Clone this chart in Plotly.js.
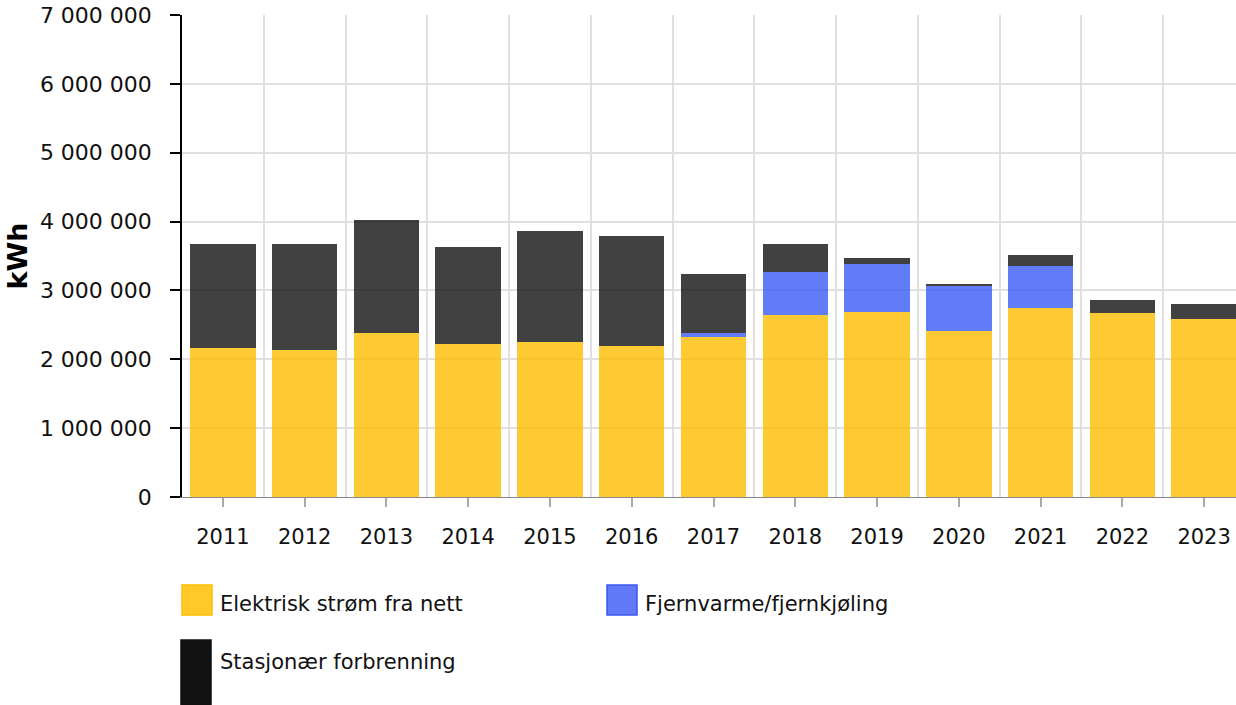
<!DOCTYPE html>
<html>
<head>
<meta charset="utf-8">
<script src="https://cdn.plot.ly/plotly-3.0.1.min.js"></script>
<style>
  html, body { margin: 0; padding: 0; overflow: hidden; background: #fff; }
  #chart { width: 1250px; height: 705px; }
</style>
</head>
<body>
<div id="chart"></div>
<script>
const years = [2011, 2012, 2013, 2014, 2015, 2016, 2017, 2018, 2019, 2020, 2021, 2022, 2023];
const electricity = [2163000, 2129000, 2376000, 2216000, 2245000, 2187000, 2318000, 2637000, 2681000, 2405000, 2739000, 2666000, 2579000];
const districtHeat = [0, 0, 0, 0, 0, 0, 58000, 629000, 696000, 658000, 619000, 0, 0];
const combustion = [1505000, 1539000, 1640000, 1408000, 1611000, 1597000, 856000, 402000, 90000, 24000, 150000, 189000, 218000];
const seriesNames = ["Elektrisk strøm fra nett", "Fjernvarme/fjernkjøling", "Stasjonær forbrenning"];
const yTickVals = [0, 1000000, 2000000, 3000000, 4000000, 5000000, 6000000, 7000000];

const FONT = "DejaVu Sans, Verdana, sans-serif";
const W = 1250, H = 705;
const M = { l: 182, r: 5, t: 15, b: 208 };
const PW = W - M.l - M.r, PH = H - M.t - M.b;
const px2x = function (px) { return (px - M.l) / PW; };
const px2y = function (py) { return (H - M.b - py) / PH; };

const barColors = ["rgba(252,189,0,0.8)", "rgba(59,90,245,0.8)", "rgba(17,17,17,0.8)"];
const seriesValues = [electricity, districtHeat, combustion];

const traces = seriesValues.map(function (vals, i) {
  return {
    type: "bar", x: years, y: vals, name: seriesNames[i], width: 0.8,
    marker: { color: barColors[i], line: { width: 0 } },
    hoverinfo: "y+name", showlegend: false
  };
});

// legend drawn as swatch + text (pixel boxes for the swatches, text anchor)
const legendItems = [
  { fill: "#FFC92A", stroke: "#FDC000", box: [182, 585, 212, 615], tx: 218, ty: 604 },
  { fill: "#6178F7", stroke: "#3D5AF1", box: [607, 585, 637, 615], tx: 643, ty: 604 },
  { fill: "#111111", stroke: "#111111", box: [181, 640, 211, 705], tx: 218, ty: 662 }
];

const shapes = legendItems.map(function (it) {
  return {
    type: "rect", xref: "paper", yref: "paper",
    x0: px2x(it.box[0]), x1: px2x(it.box[2]),
    y0: px2y(it.box[3]), y1: px2y(it.box[1]),
    fillcolor: it.fill, line: { color: it.stroke, width: 1.5 }, layer: "above"
  };
});

const annotations = legendItems.map(function (it, i) {
  return {
    xref: "paper", yref: "paper", x: px2x(it.tx), y: px2y(it.ty),
    xanchor: "left", yanchor: "middle", showarrow: false,
    text: seriesNames[i],
    font: { family: FONT, size: 21, color: "#111" }
  };
});

const layout = {
  width: W, height: H,
  margin: M,
  barmode: "stack",
  separators: ", ",
  paper_bgcolor: "#fff",
  plot_bgcolor: "#fff",
  font: { family: FONT, size: 21, color: "#111" },
  showlegend: false,
  xaxis: {
    type: "linear",
    range: [2010.5, 2023.5],
    tickvals: years,
    ticktext: years.map(String),
    showgrid: false,
    zeroline: false,
    showline: true, linecolor: "#888", linewidth: 1,
    ticks: "outside", ticklen: 9, tickcolor: "#aaa", tickwidth: 1.5,
    ticklabelstandoff: 12,
    tickfont: { family: FONT, size: 21, color: "#111" },
    minor: { tick0: 2010.5, dtick: 1, showgrid: true, gridcolor: "#e0e0e0", gridwidth: 1.5, ticks: "" },
    fixedrange: true
  },
  yaxis: {
    range: [0, 7000000],
    tickvals: yTickVals,
    tickformat: ",d",
    showgrid: true, gridcolor: "#e0e0e0", gridwidth: 1.5,
    zeroline: false,
    showline: true, linecolor: "#000", linewidth: 1.5,
    ticks: "outside", ticklen: 10, tickcolor: "#000", tickwidth: 1.5,
    ticklabelstandoff: 14,
    tickfont: { family: FONT, size: 22, color: "#111" },
    title: { text: "<b>kWh</b>", font: { family: FONT, size: 27, color: "#000" }, standoff: 4 },
    fixedrange: true
  },
  shapes: shapes,
  annotations: annotations
};

Plotly.newPlot("chart", traces, layout, { displayModeBar: false });
</script>
</body>
</html>
